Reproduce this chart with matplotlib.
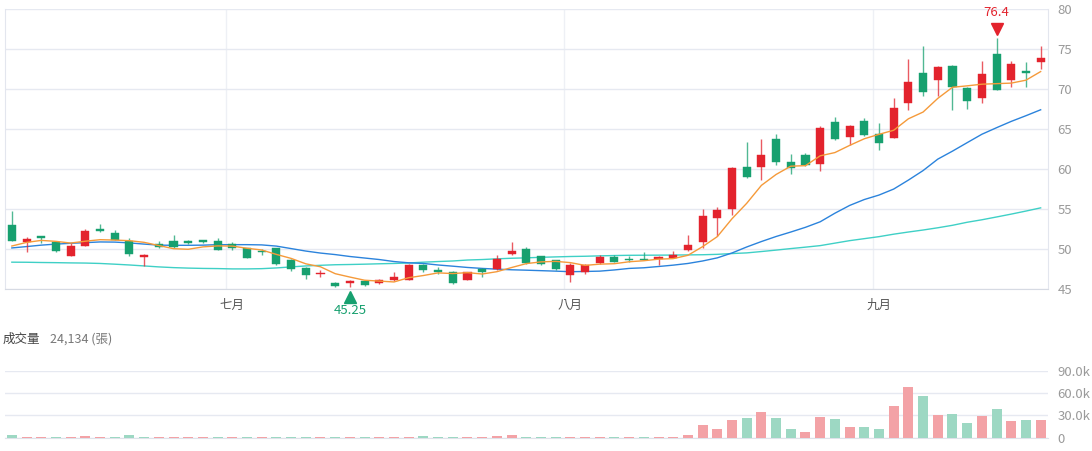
import matplotlib
matplotlib.use("Agg")
import matplotlib.pyplot as plt
import matplotlib.transforms as mtransforms
import numpy as np
import pandas as pd

plt.rcParams['font.family'] = ['Noto Sans CJK TC', 'DejaVu Sans']

# ---------------- data ----------------
opens = [53.07, 50.87, 51.66, 50.96, 49.22, 50.46, 52.48, 52.04, 51.08, 49.06,
         50.62, 51.08, 51.04, 51.12, 51.04, 50.71, 50.17, 49.84, 50.17, 48.69,
         47.69, 46.86, 45.74, 45.83, 46.03, 45.74, 46.12, 46.15, 48.02, 47.36,
         47.20, 46.20, 47.52, 47.48, 49.43, 50.05, 49.10, 48.64, 46.77, 47.20,
         48.26, 49.01, 48.81, 48.75, 48.81, 48.93, 49.88, 50.96, 53.90, 55.01,
         60.30, 60.23, 63.74, 60.85, 61.76, 60.72, 65.89, 64.03, 66.01, 64.45,
         63.95, 68.30, 72.02, 71.19, 72.93, 70.16, 68.87, 74.38, 71.19, 72.27,
         73.46]
highs = [54.80, 51.50, 51.70, 51.00, 50.75, 52.48, 53.19, 52.36, 51.37, 49.40,
         51.00, 51.79, 51.20, 51.20, 51.40, 50.90, 50.20, 50.05, 50.20, 48.80,
         47.80, 47.36, 45.95, 46.12, 46.10, 46.30, 47.20, 48.10, 48.10, 47.77,
         47.30, 47.20, 47.60, 49.26, 50.87, 50.25, 49.20, 48.70, 48.23, 48.10,
         49.34, 49.26, 49.13, 49.65, 49.10, 49.75, 51.83, 55.00, 55.34, 60.30,
         63.41, 63.83, 64.36, 61.97, 62.04, 65.39, 66.51, 65.50, 66.43, 65.81,
         68.92, 73.76, 75.41, 72.90, 73.00, 70.30, 73.55, 76.40, 73.55, 73.42,
         75.41]
lows = [51.00, 49.63, 50.80, 49.70, 49.20, 50.40, 52.20, 51.10, 49.20, 47.89,
        50.20, 50.20, 50.60, 50.80, 49.90, 49.88, 48.90, 49.34, 48.00, 47.27,
        46.33, 46.53, 45.30, 45.25, 45.45, 45.70, 46.00, 46.10, 47.15, 46.95,
        45.70, 46.20, 46.53, 47.40, 49.30, 48.20, 48.05, 47.40, 45.95, 46.95,
        48.20, 48.40, 48.44, 48.60, 47.98, 48.90, 49.80, 50.17, 51.70, 54.31,
        58.90, 58.65, 60.51, 59.40, 60.40, 59.81, 63.70, 63.00, 64.20, 62.46,
        63.90, 67.43, 69.20, 69.20, 67.43, 67.50, 68.25, 69.90, 70.23, 70.23,
        72.52]
closes = [51.08, 51.33, 51.37, 49.75, 50.37, 52.24, 52.28, 51.12, 49.38, 49.33,
          50.25, 50.30, 50.75, 50.87, 49.96, 50.13, 48.93, 49.68, 48.10, 47.48,
          46.74, 47.07, 45.37, 45.99, 45.50, 46.20, 46.53, 48.02, 47.36, 47.15,
          45.78, 47.11, 47.15, 48.81, 49.75, 48.23, 48.19, 47.48, 48.02, 48.02,
          49.01, 48.47, 48.69, 48.66, 49.01, 49.34, 50.55, 54.10, 54.93, 60.18,
          58.99, 61.76, 60.92, 60.10, 60.51, 65.14, 63.78, 65.39, 64.27, 63.28,
          67.68, 70.94, 69.61, 72.80, 70.23, 68.58, 71.97, 69.95, 73.14, 72.06,
          73.96]
prior_closes = [49.07, 50.12, 50.35, 51.43]
volumes = [3600, 1500, 1200, 1200, 1200, 2700, 1500, 1200, 3600, 1500,
           1200, 1200, 1200, 1200, 1200, 1200, 1200, 1200, 1200, 1200,
           1200, 1200, 1200, 1000, 1200, 1000, 1500, 1500, 2000, 1200,
           1000, 1500, 1200, 2000, 3000, 1500, 1200, 1200, 1200, 1500,
           1200, 1200, 1000, 1000, 1300, 1300, 3600, 16600, 12100, 24200,
           26900, 34000, 26400, 11200, 7600, 28200, 25100, 14800, 13900, 11200,
           42100, 68500, 56400, 30000, 32200, 20200, 29100, 39000, 21900, 23300,
           24134]
ma20 = [50.17, 50.34, 50.52, 50.65, 50.75, 50.83, 50.92, 50.90, 50.80, 50.65,
        50.52, 50.50, 50.50, 50.52, 50.58, 50.58, 50.58, 50.55, 50.40, 50.09,
        49.78, 49.53, 49.34, 49.10, 48.91, 48.72, 48.47, 48.31, 48.23, 48.04,
        47.89, 47.73, 47.61, 47.52, 47.44, 47.39, 47.33, 47.27, 47.20, 47.23,
        47.27, 47.42, 47.61, 47.69, 47.85, 48.02, 48.23, 48.54, 48.93, 49.54,
        50.29, 50.97, 51.60, 52.16, 52.75, 53.44, 54.51, 55.48, 56.22, 56.78,
        57.53, 58.65, 59.84, 61.27, 62.27, 63.33, 64.38, 65.20, 65.99, 66.70,
        67.44]
ma60 = [48.39, 48.38, 48.35, 48.33, 48.30, 48.28, 48.23, 48.14, 48.04, 47.92,
        47.80, 47.71, 47.65, 47.61, 47.59, 47.55, 47.55, 47.58, 47.67, 47.80,
        47.92, 48.00, 48.07, 48.10, 48.14, 48.19, 48.23, 48.29, 48.39, 48.47,
        48.54, 48.66, 48.72, 48.81, 48.88, 48.93, 49.00, 49.05, 49.10, 49.13,
        49.18, 49.22, 49.25, 49.26, 49.27, 49.28, 49.30, 49.32, 49.37, 49.47,
        49.55, 49.72, 49.90, 50.09, 50.27, 50.46, 50.77, 51.08, 51.33, 51.58,
        51.89, 52.16, 52.41, 52.69, 53.00, 53.38, 53.69, 54.04, 54.40, 54.78,
        55.18]
month_labels = ['七月', '八月', '九月']
month_first_idx = [15, 38, 59]
price_ticks = [45, 50, 55, 60, 65, 70, 75, 80]
vol_ticks = [0, 30000, 60000, 90000]
vol_tick_labels = ['0', '30.0k', '60.0k', '90.0k']
last_volume_text = '24,134 (張)'

# ---------------- derived ----------------
n = len(closes)
idx = np.arange(n)
all_closes = pd.Series(prior_closes + closes)
ma5 = all_closes.rolling(5).mean().iloc[len(prior_closes):].to_numpy()
prev_close = np.array(prior_closes[-1:] + closes[:-1])

RED = '#e3232d'
GREEN = '#17a06f'
RED_V = '#f3a2a6'
GREEN_V = '#9dd8c3'
GRID = '#e6e9f1'

W, H = 1092, 451
fig = plt.figure(figsize=(W / 100, H / 100), dpi=100)
left_px, right_px = 4.5, 1048
ax = fig.add_axes([left_px / W, 1 - 289.3 / H, (right_px - left_px) / W, (289.3 - 9.3) / H])
axv = fig.add_axes([left_px / W, 1 - 437.7 / H, (right_px - left_px) / W, 67 / H])

# ---------------- price panel ----------------
for i in idx:
    o, h, l, c = opens[i], highs[i], lows[i], closes[i]
    col = RED if c >= o else GREEN
    ax.vlines(i, l, h, color=col, lw=1.0, alpha=0.75, zorder=3)
    body = max(abs(c - o), 0.14)
    ax.bar(i, body, bottom=min(o, c) - (body - abs(c - o)) / 2, width=0.55,
           color=col, edgecolor=col, linewidth=0.3, zorder=4)

ax.plot(idx, ma60, color='#3fd0c6', lw=1.0, zorder=2)
ax.plot(idx, ma20, color='#2b83dc', lw=1.0, zorder=2)
ax.plot(idx, ma5, color='#f59a3a', lw=1.0, zorder=5)

ax.set_xlim(-0.5, n - 0.5)
ax.set_ylim(price_ticks[0], price_ticks[-1])
ax.yaxis.tick_right()
ax.set_yticks(price_ticks)
ax.tick_params(axis='y', length=0, pad=7, labelsize=9.5, labelcolor='#9a9a9a')
ax.grid(axis='y', color=GRID, lw=1)
ax.set_axisbelow(True)
for m in month_first_idx:
    ax.axvline(m - 0.4, color='#eef0f5', lw=1, zorder=0)
ax.set_xticks(month_first_idx)
ax.set_xticklabels(month_labels)
ax.tick_params(axis='x', length=0, pad=7, labelsize=9, labelcolor='#555555')
for s in ['left', 'right']:
    ax.spines[s].set_color('#e3e6ee')
ax.spines['top'].set_visible(False)
ax.spines['bottom'].set_color('#d6dae3')

# max / min annotations
imax = int(np.argmax(highs))
imin = int(np.argmin(lows))
t_up = mtransforms.offset_copy(ax.transData, fig=fig, x=0, y=6.3, units='points')
t_upt = mtransforms.offset_copy(ax.transData, fig=fig, x=0, y=18.7, units='points')
t_dn = mtransforms.offset_copy(ax.transData, fig=fig, x=0, y=-6.8, units='points')
t_dnt = mtransforms.offset_copy(ax.transData, fig=fig, x=0, y=-17.0, units='points')
ax.plot([imax], [highs[imax]], marker='v', ms=8.5, color=RED, mec=RED, transform=t_up, clip_on=False, zorder=6)
ax.text(imax, highs[imax], f'{highs[imax]:g}', color=RED, ha='center', va='center', fontsize=9.5,
        transform=t_upt, clip_on=False)
ax.plot([imin], [lows[imin]], marker='^', ms=8.5, color=GREEN, mec=GREEN, transform=t_dn, clip_on=False, zorder=6)
ax.text(imin, lows[imin], f'{lows[imin]:.2f}', color=GREEN, ha='center', va='center', fontsize=9.5,
        transform=t_dnt, clip_on=False)

# ---------------- volume panel ----------------
vcols = [RED_V if closes[i] >= prev_close[i] else GREEN_V for i in idx]
axv.bar(idx, volumes, width=0.68, color=vcols, zorder=3)
axv.set_xlim(-0.5, n - 0.5)
axv.set_ylim(0, vol_ticks[-1])
axv.yaxis.tick_right()
axv.set_yticks(vol_ticks)
axv.set_yticklabels(vol_tick_labels)
axv.tick_params(axis='y', length=0, pad=7, labelsize=9.5, labelcolor='#9a9a9a')
axv.set_xticks([])
axv.grid(axis='y', color=GRID, lw=1)
axv.set_axisbelow(True)
for s in ['left', 'right', 'top']:
    axv.spines[s].set_visible(False)
axv.spines['bottom'].set_color('#dfe2ea')

fig.text(3 / W, 1 - 339 / H, '成交量', fontsize=9, color='#444444', va='center', ha='left')
fig.text(50 / W, 1 - 339 / H, last_volume_text, fontsize=9, color='#777777', va='center', ha='left')

fig.savefig('out.png', dpi=100)
